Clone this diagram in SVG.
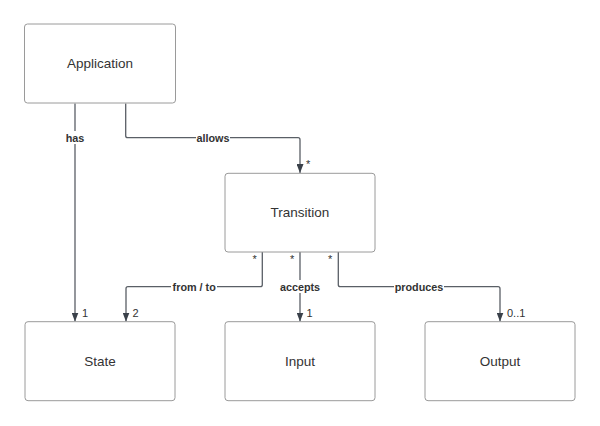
<svg xmlns="http://www.w3.org/2000/svg" width="600" height="426" viewBox="0 0 600 426">
<defs>
<style>
.box{fill:#ffffff;stroke:#9a9a9a;stroke-width:1}
.nt{font-family:"Liberation Sans",Arial,sans-serif;font-size:13.5px;fill:#333333;text-anchor:middle;dominant-baseline:central}
.ln{fill:none;stroke:#5a5f66;stroke-width:1.3}
.lb{font-family:"Liberation Sans",Arial,sans-serif;font-size:10.8px;font-weight:bold;fill:#333333;text-anchor:middle;dominant-baseline:central}
.lbbg{fill:#ffffff}
.m{font-family:"Liberation Sans",Arial,sans-serif;font-size:11px;fill:#333333}
</style>
<marker id="arr" viewBox="0 0 10 10" refX="10" refY="5" markerWidth="7" markerHeight="7" markerUnits="userSpaceOnUse" orient="auto">
<path d="M0,0 L10,5 L0,10 z" fill="#3a414a"/>
</marker>
<marker id="arrow" viewBox="0 0 9 7" refX="9" refY="3.5" markerWidth="9" markerHeight="7" markerUnits="userSpaceOnUse" orient="auto">
<path d="M0,0 L9,3.5 L0,7 z" fill="#3a414a"/>
</marker>
</defs>
<rect width="600" height="426" fill="#ffffff"/>
<g id="connectors">
<path class="ln" d="M75,103.5 V321.5" marker-end="url(#arrow)"/>
<path class="ln" d="M125.7,103.5 V135.7 Q125.7,137.7 127.7,137.7 H298 Q300,137.7 300,139.7 V173" marker-end="url(#arrow)"/>
<path class="ln" d="M262.3,252 V284.7 Q262.3,286.7 260.3,286.7 H128 Q126,286.7 126,288.7 V321.5" marker-end="url(#arrow)"/>
<path class="ln" d="M300,252 V321.5" marker-end="url(#arrow)"/>
<path class="ln" d="M338.3,252 V284.7 Q338.3,286.7 340.3,286.7 H498 Q500,286.7 500,288.7 V321.5" marker-end="url(#arrow)"/>
<rect class="lbbg" x="64" y="131" width="22" height="13"/>
<text class="lb" x="75" y="137.7">has</text>
<rect class="lbbg" x="196" y="131" width="34" height="13"/>
<text class="lb" x="213" y="137.7">allows</text>
<rect class="lbbg" x="171" y="280" width="46" height="13"/>
<text class="lb" x="194.2" y="286.7">from / to</text>
<rect class="lbbg" x="279" y="280" width="42" height="13"/>
<text class="lb" x="300" y="286.7">accepts</text>
<rect class="lbbg" x="394" y="280" width="50" height="13"/>
<text class="lb" x="419" y="286.7">produces</text>
<text class="m" x="306" y="168">*</text>
<text class="m" x="252.5" y="263">*</text>
<text class="m" x="290" y="263">*</text>
<text class="m" x="328" y="263">*</text>
<text class="m" x="82" y="317">1</text>
<text class="m" x="132.5" y="317">2</text>
<text class="m" x="306.5" y="317">1</text>
<text class="m" x="507" y="317">0..1</text>
</g>
<g id="application"><rect class="box" x="24.5" y="24" width="151" height="79" rx="3"/><text class="nt" x="100" y="63.5">Application</text></g>
<g id="transition"><rect class="box" x="225" y="173.3" width="150" height="78.7" rx="3"/><text class="nt" x="300" y="212.5">Transition</text></g>
<g id="state"><rect class="box" x="25" y="321.7" width="150" height="79" rx="3"/><text class="nt" x="100" y="361">State</text></g>
<g id="input"><rect class="box" x="225" y="321.7" width="150" height="79" rx="3"/><text class="nt" x="300" y="361">Input</text></g>
<g id="output"><rect class="box" x="425" y="321.7" width="150" height="79" rx="3"/><text class="nt" x="500" y="361">Output</text></g>
</svg>
